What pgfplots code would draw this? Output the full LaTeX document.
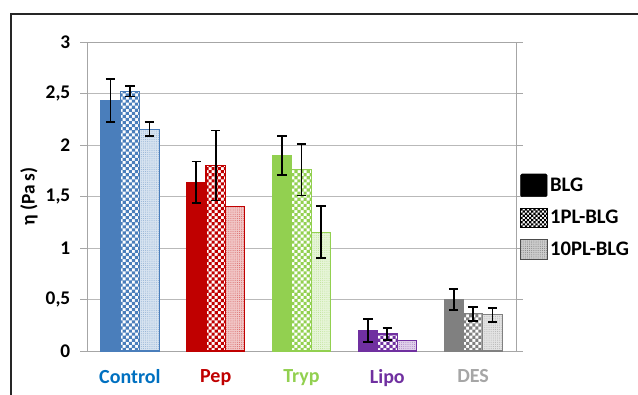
\documentclass[border=0pt]{standalone}
\usepackage{pgfplots}
\pgfplotsset{compat=1.18}
\usetikzlibrary{patterns}
\usepackage{fontspec}
\setmainfont{Carlito}
\definecolor{cC}{HTML}{4A7EBB}
\definecolor{cCt}{HTML}{0070C0}
\definecolor{cP}{HTML}{C00000}
\definecolor{cT}{HTML}{92D050}
\definecolor{cL}{HTML}{7030A0}
\definecolor{cD}{HTML}{808080}
\definecolor{cDt}{HTML}{A6A6A6}
\pgfdeclarepatternformonly{smallcheck}{\pgfqpoint{-0.05pt}{-0.05pt}}{\pgfqpoint{4.65pt}{4.65pt}}{\pgfqpoint{4.6pt}{4.6pt}}{%
  \pgfpathrectangle{\pgfqpoint{0pt}{0pt}}{\pgfqpoint{2.35pt}{2.35pt}}%
  \pgfpathrectangle{\pgfqpoint{2.3pt}{2.3pt}}{\pgfqpoint{2.35pt}{2.35pt}}%
  \pgfusepath{fill}}
\pgfdeclarepatternformonly{tinycheck}{\pgfqpoint{-0.05pt}{-0.05pt}}{\pgfqpoint{3.25pt}{3.25pt}}{\pgfqpoint{3.2pt}{3.2pt}}{%
  \pgfpathrectangle{\pgfqpoint{0pt}{0pt}}{\pgfqpoint{1.65pt}{1.65pt}}%
  \pgfpathrectangle{\pgfqpoint{1.6pt}{1.6pt}}{\pgfqpoint{1.65pt}{1.65pt}}%
  \pgfusepath{fill}}
\pgfdeclarepatternformonly{finedots}{\pgfqpoint{-0.5pt}{-0.5pt}}{\pgfqpoint{1.5pt}{1.5pt}}{\pgfqpoint{1.6pt}{1.6pt}}{%
  \pgfpathcircle{\pgfqpoint{0.4pt}{0.4pt}}{0.38pt}%
  \pgfusepath{fill}}
\pgfplotsset{
  myerr/.style={error bars/.cd, y dir=both, y explicit,
     error bar style={black, line width=1.3pt},
     error mark=-,
     error mark options={rotate=90, black, line width=1.3pt, mark size=3.5pt}},
}
\newcommand\bw{14.6pt}
% BLG
\newcommand\barA[4]{\addplot[ybar, bar width=\bw, bar shift=0pt, fill=#1, draw=#1, line width=0.6pt, forget plot, myerr] coordinates {(#2,#3) +- (0,#4)};}
% 1PL
\newcommand\barB[4]{\addplot[ybar, bar width=\bw, bar shift=0pt, fill=white, draw=#1, line width=0.8pt, postaction={pattern=smallcheck, pattern color=#1}, forget plot, myerr] coordinates {(#2,#3) +- (0,#4)};}
% 10PL with error
\newcommand\barC[4]{\addplot[ybar, bar width=\bw, bar shift=0pt, fill=#1!22, draw=#1, line width=0.8pt, postaction={pattern=finedots, pattern color=#1!60}, forget plot, myerr] coordinates {(#2,#3) +- (0,#4)};}
% 10PL without error
\newcommand\barD[3]{\addplot[ybar, bar width=\bw, bar shift=0pt, fill=#1!22, draw=#1, line width=0.8pt, postaction={pattern=finedots, pattern color=#1!60}, forget plot] coordinates {(#2,#3)};}
\begin{document}
\begin{tikzpicture}
\useasboundingbox (-65.25pt,-32.25pt) rectangle (413.25pt,263.25pt);
\draw[line width=1.1pt, black!85] (-57pt,-40pt) -- (-57pt,252.75pt) -- (430pt,252.75pt);
\begin{axis}[
  at={(0,0)}, anchor=south west,
  scale only axis, width=321.75pt, height=231.75pt,
  xmin=-0.5, xmax=4.5, ymin=0, ymax=3,
  xtick={0,1,2,3,4},
  xticklabels={\textcolor{cCt}{Control},\textcolor{cP}{Pep},\textcolor{cT}{Tryp},\textcolor{cL}{Lipo},\textcolor{cDt}{DES}},
  ytick={0,0.5,...,3},
  /pgf/number format/assume math mode=true,
  /pgf/number format/use comma,
  yticklabel style={font=\bfseries\fontsize{14.5}{16}\selectfont, xshift=-4pt},
  xticklabel style={font=\bfseries\fontsize{15}{17}\selectfont, yshift=-5pt},
  x tick style={draw=none},
  y tick style={gray!70, line width=0.6pt},
  tick align=outside, major tick length=5pt,
  ymajorgrids, grid style={gray!55, line width=0.6pt},
  axis line style={gray!70, line width=0.6pt},
  ylabel={η (Pa s)},
  ylabel style={font=\bfseries\fontsize{14.5}{16}\selectfont, at={(axis description cs:0,0.5)}, anchor=center, yshift=43.5pt},
  legend style={at={(axis description cs:1,0.434)}, anchor=west, xshift=3pt, draw=none, fill=none, inner xsep=0pt, row sep=8pt, cells={anchor=west}, font=\bfseries\fontsize{15.5}{17}\selectfont},
  clip=false,
]
\barA{cC}{-0.2269}{2.43}{0.21}
\barB{cC}{0}{2.52}{0.05}
\barC{cC}{0.2269}{2.155}{0.065}
\barA{cP}{0.7731}{1.64}{0.20}
\barB{cP}{1}{1.80}{0.34}
\barD{cP}{1.2269}{1.40}
\barA{cT}{1.7731}{1.90}{0.19}
\barB{cT}{2}{1.76}{0.25}
\barC{cT}{2.2269}{1.155}{0.25}
\barA{cL}{2.7731}{0.20}{0.11}
\barB{cL}{3}{0.165}{0.06}
\barD{cL}{3.2269}{0.10}
\barA{cD}{3.7731}{0.50}{0.10}
\barB{cD}{4}{0.36}{0.07}
\barC{cD}{4.2269}{0.35}{0.07}
\addlegendimage{legend image code/.code={\draw[fill=black,draw=black,rounded corners=1pt] (0pt,-8.5pt) rectangle (20pt,8.5pt);}}
\addlegendentry{BLG}
\addlegendimage{legend image code/.code={\draw[fill=white,draw=black,postaction={pattern=tinycheck}] (0pt,-7pt) rectangle (20pt,7pt);}}
\addlegendentry{1PL-BLG}
\addlegendimage{legend image code/.code={\draw[fill=black!20,draw=black!70,postaction={pattern=finedots,pattern color=black!50}] (0pt,-7.5pt) rectangle (20pt,7.5pt);}}
\addlegendentry{10PL-BLG}
\end{axis}
\end{tikzpicture}
\end{document}
